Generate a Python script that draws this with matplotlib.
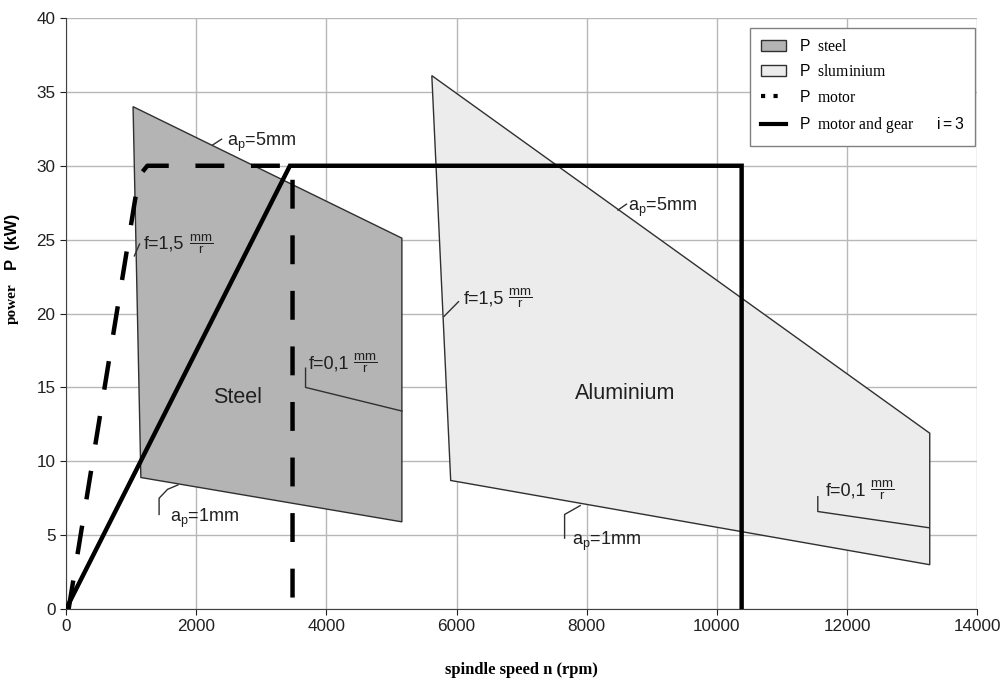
import matplotlib
matplotlib.use("Agg")
import matplotlib.pyplot as plt
from matplotlib.patches import Polygon, Patch
from matplotlib.lines import Line2D

plt.rcParams['font.family'] = ['Liberation Sans', 'DejaVu Sans']
plt.rcParams['mathtext.fontset'] = 'custom'
plt.rcParams['mathtext.rm'] = 'Liberation Sans'
plt.rcParams['mathtext.it'] = 'Liberation Sans'
plt.rcParams['mathtext.sf'] = 'Liberation Sans'

# --- data ---
steel_n = [1030, 5160, 5160, 1150]
steel_p = [34.0, 25.1, 5.9, 8.9]
alu_n = [5620, 13270, 13270, 5910]
alu_p = [36.1, 11.9, 3.0, 8.7]
motor_n = [40, 1120, 1250, 3480, 3480]
motor_p = [0.0, 29.3, 30.0, 30.0, 0.0]
gear_n = [0, 3440, 10380, 10380]
gear_p = [0, 30.0, 30.0, 0.0]
# leader lines (n, P)
leaders = [
    ([2250, 2390], [31.4, 31.8]),
    ([1050, 1130], [23.9, 24.7]),
    ([3680, 3680, 5160], [16.3, 15.0, 13.4]),
    ([1720, 1560, 1430, 1430], [8.4, 8.1, 7.5, 6.4]),
    ([8480, 8610], [27.0, 27.4]),
    ([5806, 6030], [19.8, 20.8]),
    ([11550, 11550, 13260], [7.6, 6.6, 5.5]),
    ([7900, 7660, 7660], [7.0, 6.4, 4.8]),
]
labels = [
    (2480, 31.6, r'a$_\mathrm{p}$=5mm', False),
    (1200, 24.7, 'f=1,5', True),
    (3730, 16.6, 'f=0,1', True),
    (1590, 6.1, r'a$_\mathrm{p}$=1mm', False),
    (8630, 27.2, r'a$_\mathrm{p}$=5mm', False),
    (6110, 21.0, 'f=1,5', True),
    (11670, 8.0, 'f=0,1', True),
    (7770, 4.6, r'a$_\mathrm{p}$=1mm', False),
]
frac_text = r'$\dfrac{\mathrm{mm}}{\mathrm{r}}$'
xticks = [0, 2000, 4000, 6000, 8000, 10000, 12000, 14000]
yticks = [0, 5, 10, 15, 20, 25, 30, 35, 40]

fig = plt.figure(figsize=(10.08, 6.82), dpi=100)
ax = fig.add_axes([0.0655, 0.107, 0.904, 0.8666])
ax.set_xlim(0, 14000)
ax.set_ylim(0, 40)
ax.set_xticks(xticks)
ax.set_yticks(yticks)
ax.grid(True, color='#b8b8b8', linewidth=1.0)
ax.set_axisbelow(True)
for s in ['top', 'right']:
    ax.spines[s].set_visible(False)
ax.spines['left'].set_color('#404040')
ax.spines['bottom'].set_color('#404040')
ax.tick_params(direction='out', length=4, labelsize=12.3, colors='#202020')

ax.add_patch(Polygon(list(zip(steel_n, steel_p)), closed=True, facecolor='#b4b4b4',
                     edgecolor='#303030', linewidth=1.0, zorder=2))
ax.add_patch(Polygon(list(zip(alu_n, alu_p)), closed=True, facecolor='#ececec',
                     edgecolor='#303030', linewidth=1.0, zorder=2))

for ln, lp in leaders:
    ax.plot(ln, lp, color='#303030', linewidth=1.0, zorder=3)
for x, y, t, has_frac in labels:
    txt = ax.text(x, y, t, fontsize=13, color='#202020', va='center', ha='left', zorder=5)
    if has_frac:
        ax.annotate(frac_text, xy=(1, 0.5), xycoords=txt, xytext=(3, 0),
                    textcoords='offset points', fontsize=9.5, color='#202020',
                    va='center', ha='left', zorder=5)

ax.text(2630, 14.3, 'Steel', fontsize=15.5, ha='center', va='center', color='#202020')
ax.text(8590, 14.6, 'Aluminium', fontsize=15.5, ha='center', va='center', color='#202020')

ax.plot(motor_n, motor_p, color='black', linewidth=3.2, linestyle=(0, (6.5, 6)),
        zorder=4, solid_capstyle='butt', dash_capstyle='butt')
ax.plot(gear_n, gear_p, color='black', linewidth=3.2, zorder=4, solid_joinstyle='miter')

handles = [
    Patch(facecolor='#b4b4b4', edgecolor='#303030'),
    Patch(facecolor='#ececec', edgecolor='#303030'),
    Line2D([], [], color='black', linewidth=3, linestyle=(0, (1, 2))),
    Line2D([], [], color='black', linewidth=3),
]
names = [r'$\mathsf{P}$  steel', r'$\mathsf{P}$  sluminium', r'$\mathsf{P}$  motor',
         r'$\mathsf{P}$  motor and gear      $\mathsf{i{=}3}$']
leg = ax.legend(handles, names, loc='upper right', bbox_to_anchor=(0.998, 0.983),
                borderaxespad=0,
                prop={'family': 'Liberation Serif', 'size': 11.3}, fancybox=False,
                framealpha=1, edgecolor='#808080', handlelength=1.6, labelspacing=0.6,
                borderpad=0.7)
leg.get_frame().set_linewidth(1.0)

ax.set_xlabel('spindle speed n (rpm)', fontfamily='Liberation Serif', fontweight='bold',
              fontsize=12, labelpad=20)
fig.text(0.012, 0.555, 'power', rotation=90, fontfamily='Liberation Serif',
         fontweight='bold', fontsize=11, ha='center', va='center')
fig.text(0.012, 0.645, 'P  (kW)', rotation=90, fontfamily='Liberation Sans',
         fontweight='bold', fontsize=12, ha='center', va='center')

fig.savefig('out.png', dpi=100)
